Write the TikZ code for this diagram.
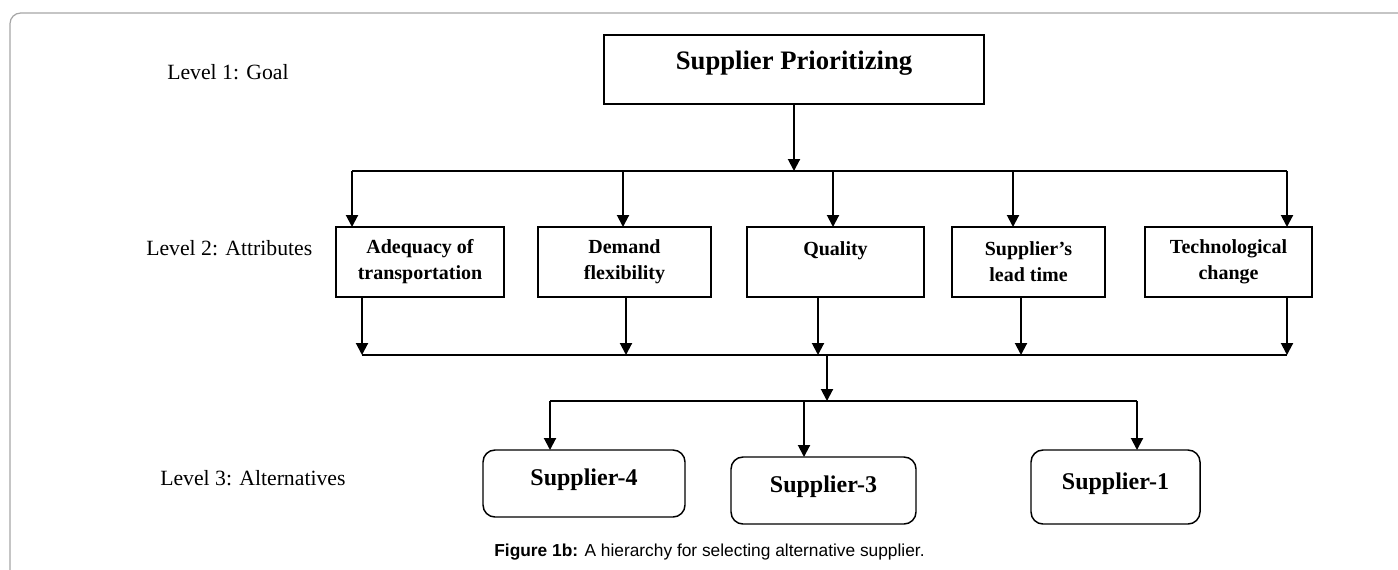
\documentclass[tikz,border=0pt]{standalone}
\usepackage{fontspec}
\setmainfont{Liberation Serif}
\newfontfamily\capfont{Liberation Sans}
\usetikzlibrary{arrows.meta}
\tikzset{
  box/.style={draw, line width=1.1pt, inner sep=0pt, outer sep=0pt, align=center, font=\bfseries\fontsize{15}{19.5}\selectfont},
  topbox/.style={draw, line width=1.1pt, inner sep=0pt, outer sep=0pt, font=\bfseries\fontsize{20}{24}\selectfont, text height=16pt, text depth=16pt},
  supbox/.style={draw, line width=1.1pt, rounded corners=9pt, inner sep=0pt, outer sep=0pt, font=\bfseries\fontsize{18}{22}\selectfont, text height=15pt, text depth=12pt},
  lvl/.style={anchor=west, inner sep=0pt, font=\fontsize{16.3}{20}\selectfont},
  arr/.style={line width=1.5pt, -{Triangle[width=9pt,length=9pt]}},
  ln/.style={line width=1.5pt},
}
\begin{document}
\begin{tikzpicture}[x=0.75pt,y=-0.75pt]
\useasboundingbox (0,0) rectangle (1398,569);
\draw[color=black!35, line width=0.9pt, rounded corners=8pt] (10,13) rectangle (1430,600);

% level labels
\node[lvl] (l1) at (167,72) {Level 1: Goal};
\node[lvl] (l2) at (146,248) {Level 2: Attributes};
\node[lvl] (l3) at (160,478) {Level 3: Alternatives};

% boxes
\node[topbox, minimum width=285pt, minimum height=51.75pt] (top) at (794,69.5) {Supplier Prioritizing};
\node[box, minimum width=126pt, minimum height=52.5pt] (adq) at (420,262) {Adequacy of\\transportation};
\node[box, minimum width=129.75pt, minimum height=52.5pt] (dem) at (624.5,262) {Demand\\flexibility};
\node[box, minimum width=132.75pt, minimum height=52.5pt] (qua) at (835.5,262) {Quality\\\mbox{}};
\node[box, minimum width=114.75pt, minimum height=52.5pt] (lead) at (1028.5,262) {Supplier’s\\lead time};
\node[box, minimum width=125.25pt, minimum height=52.5pt] (tech) at (1228.5,262) {Technological\\change};

\node[supbox, minimum width=151.5pt, minimum height=50.25pt] (s4) at (584,483.5) {Supplier-4};
\node[supbox, minimum width=138.75pt, minimum height=50.25pt] (s3) at (823.5,490.5) {Supplier-3};
\node[supbox, minimum width=126.75pt, minimum height=55.5pt] (s1) at (1115.5,487) {Supplier-1};

% bus coordinates
\coordinate (b1L) at (352,171);
\coordinate (b1R) at (1287,171);
\coordinate (b1c) at (794,171);
\coordinate (t2) at (623,171);
\coordinate (t3) at (833,171);
\coordinate (t4) at (1013,171);

\coordinate (b2L) at (362,355);
\coordinate (b2R) at (1287,355);
\coordinate (u2) at (626,355);
\coordinate (u3) at (818,355);
\coordinate (u4) at (1021,355);
\coordinate (b2c) at (827,355);

\coordinate (b3L) at (550,401);
\coordinate (b3R) at (1137,401);
\coordinate (b3c) at (827,401);
\coordinate (v3) at (804,401);

% level 1 -> 2
\draw[arr] (top.south -| b1c) -- (b1c);
\draw[ln] (b1L) -- (b1R);
\draw[arr] (b1L) -- (b1L |- adq.north);
\draw[arr] (t2) -- (t2 |- dem.north);
\draw[arr] (t3) -- (t3 |- qua.north);
\draw[arr] (t4) -- (t4 |- lead.north);
\draw[arr] (b1R) -- (b1R |- tech.north);

% level 2 -> bus
\draw[arr] (adq.south -| b2L) -- (b2L);
\draw[arr] (dem.south -| u2) -- (u2);
\draw[arr] (qua.south -| u3) -- (u3);
\draw[arr] (lead.south -| u4) -- (u4);
\draw[arr] (tech.south -| b2R) -- (b2R);
\draw[ln] (b2L) -- (b2R);

% bus -> level 3
\draw[arr] (b2c) -- (b3c);
\draw[ln] (b3L) -- (b3R);
\draw[arr] (b3L) -- (b3L |- s4.north);
\draw[arr] (v3) -- (v3 |- s3.north);
\draw[arr] (b3R) -- (b3R |- s1.north);

% caption
\node[font=\capfont\fontsize{13}{15}\selectfont, inner sep=0pt] (cap) at (709.5,552) {\textbf{Figure 1b:} A hierarchy for selecting alternative supplier.};
\end{tikzpicture}
\end{document}
